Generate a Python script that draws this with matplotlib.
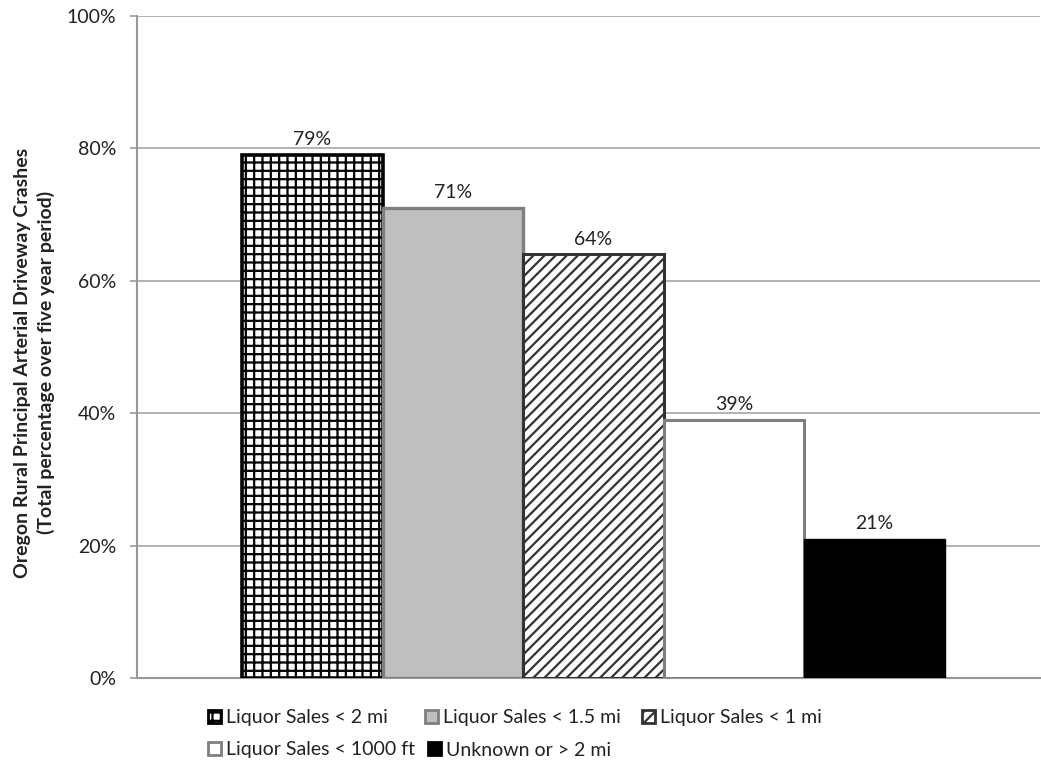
import matplotlib
matplotlib.use("Agg")
import matplotlib.pyplot as plt
from matplotlib.patches import Patch

plt.rcParams['font.family'] = ['Lato', 'DejaVu Sans']
plt.rcParams['hatch.linewidth'] = 1.6

categories = ["Liquor Sales < 2 mi", "Liquor Sales < 1.5 mi", "Liquor Sales < 1 mi",
              "Liquor Sales < 1000 ft", "Unknown or > 2 mi"]
values = [79, 71, 64, 39, 21]
value_labels = ["79%", "71%", "64%", "39%", "21%"]
y_ticks = [0, 20, 40, 60, 80, 100]
y_tick_labels = ["0%", "20%", "40%", "60%", "80%", "100%"]

styles = [
    dict(facecolor="white", edgecolor="black", hatch="++", linewidth=2.6),
    dict(facecolor="#bfbfbf", edgecolor="#7f7f7f", hatch=None, linewidth=2.4),
    dict(facecolor="white", edgecolor="#333333", hatch="///", linewidth=2.2),
    dict(facecolor="white", edgecolor="#7f7f7f", hatch=None, linewidth=2.2),
    dict(facecolor="black", edgecolor="black", hatch=None, linewidth=1.0),
]

FS = 14
W, H = 1041, 765
fig = plt.figure(figsize=(W / 100, H / 100), dpi=100)
ax = fig.add_axes([137 / W, 1 - 678 / H, (1040 - 137) / W, (678 - 16) / H])

# one cluster of five bars, Excel-style, placed in a 0..1 horizontal frame
bar_w = 140.5 / 903
start = (242 - 137) / 903
for i, (v, st) in enumerate(zip(values, styles)):
    x = start + i * bar_w
    ax.bar(x, v, width=bar_w, align="edge", zorder=3, **st)
    ax.text(x + bar_w / 2, v + 1.0, value_labels[i], ha="center", va="bottom",
            fontsize=FS, color="#222222", zorder=4)

ax.set_xlim(0, 1)
ax.set_ylim(0, 100)
ax.set_xticks([])
ax.set_yticks(y_ticks)
ax.set_yticklabels(y_tick_labels, fontsize=FS, color="#222222")
ax.tick_params(axis="y", length=5, width=1.2, color="#999999", pad=10)
ax.yaxis.grid(True, color="#a6a6a6", linewidth=1.2, zorder=0)
for s in ["top", "right"]:
    ax.spines[s].set_visible(False)
for s in ["left", "bottom"]:
    ax.spines[s].set_color("#999999")
    ax.spines[s].set_linewidth(1.5)

ax.set_ylabel("Oregon Rural Principal Arterial Driveway Crashes\n(Total percentage over five year period)",
              fontsize=FS, fontweight="bold", color="#222222", linespacing=1.4)
ax.yaxis.set_label_coords(-0.091, 0.476)

handles = []
for c, st in zip(categories, styles):
    handles.append(Patch(facecolor=st["facecolor"], edgecolor=st["edgecolor"],
                         hatch=st["hatch"], linewidth=2.0, label=c))

leg_kw = dict(frameon=False, fontsize=FS, handlelength=0.65, handleheight=0.65,
              handletextpad=0.3, borderpad=0, borderaxespad=0, labelcolor="#222222",
              loc="center left")

# legend entries laid out in fixed-width columns, two rows
slots = [(208, 718), (425, 718), (642, 718), (208, 750), (428, 750)]
for h, (px, py) in zip(handles, slots):
    fig.legend(handles=[h], bbox_to_anchor=(px / W, 1 - py / H), **leg_kw)

fig.savefig("out.png", dpi=100)
